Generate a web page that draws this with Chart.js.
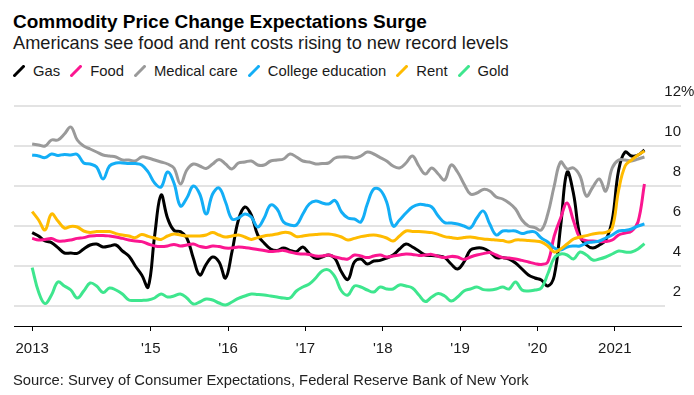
<!DOCTYPE html>
<html>
<head>
<meta charset="utf-8">
<script src="https://cdn.jsdelivr.net/npm/chart.js@4"></script>
<style>
html,body{margin:0;padding:0;background:#fff}
body{width:694px;height:395px;position:relative;overflow:hidden;font-family:"Liberation Sans",Arial,sans-serif;color:#000}
.t{position:absolute;white-space:nowrap;line-height:1}
#title{left:13px;top:12px;font-size:19px;font-weight:bold}
#sub{left:13px;top:34px;font-size:18.2px;color:#1a1a1a}
#legend{position:absolute;left:13px;top:64px;display:flex;font-size:14.8px;line-height:1;white-space:nowrap;color:#1a1a1a}
#legend .it{display:flex;align-items:flex-start;margin-right:10px}
#legend svg{width:12px;height:12px;margin-top:1px;margin-right:8px}
#source{left:13px;top:373px;font-size:14.75px;color:#222}
#wrap{position:absolute;left:0;top:0;width:694px;height:395px}
</style>
</head>
<body>
<div class="t" id="title">Commodity Price Change Expectations Surge</div>
<div class="t" id="sub">Americans see food and rent costs rising to new record levels</div>
<div id="legend"></div>
<div id="wrap"><canvas id="chart" width="694" height="395"></canvas></div>
<div class="t" id="source">Source: Survey of Consumer Expectations, Federal Reserve Bank of New York</div>

<script>
// 월별 데이터: 2013년 6월 ~ 2021년 5월 (96개월)
const FIRST_YEAR  = 2013;
const FIRST_MONTH = 6;

const gas = [
  5.67, 5.5, 5.25, 5.17, 4.92, 4.65, 4.65, 4.63, 4.85, 5.05,
  5.1, 4.95, 5.0, 5.05, 4.75, 4.5, 4.0, 3.55, 2.95, 5.5,
  7.55, 6.4, 5.78, 5.72, 5.4, 4.4, 3.55, 4.08, 4.45, 4.2,
  3.4, 4.7, 6.3, 6.95, 6.55, 5.55, 5.15, 4.85, 4.78, 4.9,
  4.78, 4.72, 4.95, 4.62, 4.38, 4.45, 4.55, 4.37, 3.7, 3.33,
  4.2, 4.35, 4.1, 4.25, 4.28, 4.4, 4.55, 4.85, 5.1, 4.95,
  4.75, 4.55, 4.52, 4.5, 4.42, 4.1, 3.85, 4.2, 4.8, 4.9,
  4.88, 4.7, 4.42, 4.42, 4.35, 4.15, 3.85, 3.55, 3.4, 3.3,
  3.0, 3.5, 6.0, 8.7, 7.6, 5.5, 5.05, 4.9, 5.05, 5.3,
  6.3, 8.8, 9.7, 9.5, 9.55, 9.8
];
const food = [
  5.38, 5.3, 5.33, 5.37, 5.25, 5.25, 5.3, 5.38, 5.42, 5.5,
  5.52, 5.53, 5.5, 5.45, 5.38, 5.3, 5.25, 5.22, 5.1, 5.0,
  4.97, 5.0, 5.08, 5.0, 5.05, 5.1, 4.98, 4.93, 5.0, 4.97,
  4.9, 4.9, 4.95, 4.92, 4.88, 4.82, 4.78, 4.72, 4.75, 4.78,
  4.7, 4.62, 4.6, 4.58, 4.5, 4.5, 4.55, 4.45, 4.38, 4.35,
  4.55, 4.5, 4.42, 4.5, 4.55, 4.45, 4.5, 4.55, 4.6, 4.58,
  4.53, 4.55, 4.58, 4.48, 4.42, 4.48, 4.45, 4.33, 4.45, 4.55,
  4.62, 4.67, 4.55, 4.42, 4.4, 4.35, 4.28, 4.2, 4.12, 4.08,
  4.2, 5.5, 6.4, 7.15, 6.25, 5.4, 5.27, 5.25, 5.22, 5.22,
  5.3, 5.55, 5.65, 5.75, 6.2, 8.1
];
const medical = [
  10.1, 10.05, 10.0, 10.3, 10.3, 10.6, 10.95, 10.3, 10.0, 9.85,
  9.7, 9.55, 9.5, 9.45, 9.3, 9.3, 9.25, 9.45, 9.4, 9.3,
  9.2, 9.1, 8.9, 8.1, 8.8, 9.1, 9.0, 8.88, 9.1, 9.33,
  9.1, 8.85, 9.15, 9.2, 9.25, 9.05, 9.05, 9.25, 9.3, 9.35,
  9.6, 9.45, 9.25, 9.2, 9.1, 9.12, 9.15, 9.4, 9.45, 9.45,
  9.4, 9.5, 9.7, 9.6, 9.42, 9.25, 9.0, 8.9, 9.15, 9.5,
  9.0, 8.6, 8.9, 8.6, 8.3, 9.05, 8.7, 8.1, 7.6, 7.65,
  7.83, 7.75, 7.45, 7.35, 7.15, 6.85, 6.3, 6.0, 5.92, 5.8,
  6.6, 8.0, 9.2, 8.85, 8.9, 8.5, 7.5, 7.95, 8.35, 7.75,
  8.9, 9.3, 9.3, 9.25, 9.35, 9.45
];
const college = [
  9.55, 9.5, 9.42, 9.6, 9.53, 9.58, 9.55, 9.58, 9.15, 9.1,
  8.95, 8.35, 9.0, 9.15, 9.15, 9.12, 9.12, 9.05, 8.7, 8.15,
  7.95, 8.7, 8.15, 7.0, 7.4, 8.0, 7.6, 6.6, 7.6, 7.9,
  7.2, 6.35, 6.4, 6.6, 6.45, 5.95, 6.4, 7.05, 6.85, 6.2,
  6.05, 6.05, 6.6, 7.1, 7.25, 7.15, 7.1, 7.28, 6.7, 6.4,
  6.35, 6.2, 7.1, 7.85, 7.8, 7.2, 6.0, 6.3, 6.65, 6.95,
  7.08, 7.05, 6.95, 6.5, 6.17, 6.15, 6.1, 6.0, 5.9, 6.4,
  6.75, 6.1, 5.55, 5.75, 5.75, 5.75, 5.62, 5.7, 5.7, 5.4,
  5.2, 4.9, 4.8, 4.95, 5.0, 5.0, 5.15, 5.2, 5.25, 5.4,
  5.55, 5.75, 5.78, 5.85, 6.0, 6.1
];
const rent = [
  6.72, 6.3, 5.8, 6.6, 6.25, 5.9, 5.98, 5.95, 5.75, 5.68,
  5.72, 5.72, 5.72, 5.62, 5.55, 5.5, 5.42, 5.58, 5.48, 5.4,
  5.33, 5.5, 5.6, 5.55, 5.5, 5.5, 5.5, 5.55, 5.67, 5.55,
  5.45, 5.5, 5.55, 5.45, 5.33, 5.42, 5.5, 5.55, 5.6, 5.68,
  5.65, 5.47, 5.5, 5.55, 5.57, 5.6, 5.6, 5.55, 5.45, 5.3,
  5.38, 5.47, 5.52, 5.55, 5.5, 5.4, 5.25, 5.5, 5.75, 5.73,
  5.72, 5.7, 5.67, 5.58, 5.47, 5.42, 5.38, 5.42, 5.45, 5.4,
  5.35, 5.33, 5.3, 5.27, 5.2, 5.3, 5.3, 5.27, 5.25, 5.2,
  5.0, 4.7, 4.85, 5.1, 5.35, 5.45, 5.52, 5.6, 5.65, 5.68,
  5.9, 7.8, 9.0, 9.3, 9.55, 9.75
];
const gold = [
  3.92, 2.7, 2.12, 2.55, 3.2, 3.0, 2.8, 2.4, 2.75, 3.15,
  3.0, 2.68, 2.9, 2.8, 2.6, 2.3, 2.28, 2.28, 2.3, 2.4,
  2.6, 2.45, 2.5, 2.6, 2.4, 2.1, 2.2, 2.35, 2.3, 2.15,
  2.05, 2.2, 2.38, 2.5, 2.6, 2.58, 2.55, 2.5, 2.45, 2.4,
  2.4, 2.75, 2.95, 3.1, 3.4, 3.75, 3.8, 3.45, 2.75, 2.55,
  3.0, 2.95, 2.8, 2.7, 2.95, 2.85, 2.85, 3.05, 3.0, 2.9,
  2.55, 2.22, 2.45, 2.62, 2.5, 2.25, 2.45, 2.75, 2.85, 2.95,
  2.82, 2.8, 2.85, 2.95, 2.85, 3.2, 2.8, 2.75, 2.8, 2.9,
  3.6, 4.4, 4.6, 4.55, 4.35, 4.7, 4.55, 4.3, 4.35, 4.45,
  4.6, 4.75, 4.7, 4.7, 4.85, 5.12
];

const seriesNames  = ['Gas', 'Food', 'Medical care', 'College education', 'Rent', 'Gold'];
const seriesValues = [gas, food, medical, college, rent, gold];
const seriesColors = ['#000000', '#fb1690', '#9a9a9a', '#13aef6', '#ffbb00', '#3ee68e'];

const yTicks      = [2, 4, 6, 8, 10, 12];
const xTickYears  = [2015, 2016, 2017, 2018, 2019, 2020, 2021];
const xTickLabels = ['2013', "'15", "'16", "'17", "'18", "'19", "'20", '2021'];

const FONT = '"Liberation Sans", Arial, sans-serif';

// 월 인덱스 → 연도 좌표 (월 중순~하순 위치)
const monthPos = gas.map((_, i) => FIRST_YEAR + (FIRST_MONTH - 0.4 + i) / 12);
const xTicks = [monthPos[0], ...xTickYears];

// 범례 (기울어진 선 모양)
const legendBox = document.getElementById('legend');
seriesNames.forEach((name, k) => {
  const it = document.createElement('div');
  it.className = 'it';
  it.innerHTML = '<svg viewBox="0 0 12 12"><line x1="0.5" y1="11.5" x2="11.5" y2="0.5" stroke="' +
    seriesColors[k] + '" stroke-width="3"/></svg><span>' + name + '</span>';
  legendBox.appendChild(it);
});

// y축 라벨: 격자선 위쪽, 오른쪽 정렬 / 맨 아래 격자선은 짧게
const yLabels = {
  id: 'yLabels',
  beforeDatasetsDraw(chart) {
    const { ctx, chartArea, scales: { y } } = chart;
    const py = y.getPixelForValue(yTicks[0]);
    ctx.save();
    ctx.strokeStyle = '#e3e3e3';
    ctx.lineWidth = 2;
    ctx.beginPath();
    ctx.moveTo(chartArea.left, py);
    ctx.lineTo(chartArea.right - 16, py);
    ctx.stroke();
    ctx.restore();
  },
  afterDraw(chart) {
    const { ctx, chartArea, scales: { y } } = chart;
    ctx.save();
    ctx.font = '15px ' + FONT;
    ctx.fillStyle = '#1a1a1a';
    ctx.textBaseline = 'middle';
    yTicks.forEach((v, i) => {
      const py = y.getPixelForValue(v) - 14;
      ctx.textAlign = 'right';
      ctx.fillText(String(v), chartArea.right, py);
      if (i === yTicks.length - 1) {
        ctx.textAlign = 'left';
        ctx.fillText('%', chartArea.right, py);
      }
    });
    ctx.restore();
  }
};

new Chart(document.getElementById('chart'), {
  type: 'line',
  data: {
    datasets: seriesNames.map((name, k) => ({
      label: name,
      data: seriesValues[k].map((v, i) => ({ x: monthPos[i], y: v })),
      borderColor: seriesColors[k],
      backgroundColor: 'transparent',
      borderWidth: 3,
      pointRadius: 0,
      tension: 0.4,
      fill: false,
      order: seriesNames.length - k
    }))
  },
  options: {
    responsive: false,
    animation: false,
    events: [],
    layout: { padding: { left: 14, right: 13, top: 106, bottom: 28 } },
    plugins: { legend: { display: false }, tooltip: { enabled: false } },
    scales: {
      x: {
        type: 'linear',
        min: 2013.232,
        max: 2021.856,
        afterBuildTicks: sc => { sc.ticks = xTicks.map(v => ({ value: v })); },
        ticks: {
          callback: (v, i) => xTickLabels[i],
          autoSkip: false, maxRotation: 0,
          font: { family: FONT, size: 15 },
          color: '#1a1a1a',
          padding: 9
        },
        grid: { drawOnChartArea: false, drawTicks: true, tickLength: 5, tickColor: '#000', tickWidth: 1 },
        border: { display: true, color: '#000', width: 1 }
      },
      y: {
        min: 1,
        max: 12,
        afterBuildTicks: sc => { sc.ticks = yTicks.map(v => ({ value: v })); },
        afterFit: sc => { sc.width = 0; },
        ticks: { display: false },
        grid: {
          color: c => (c.tick && c.tick.value === yTicks[0]) ? 'transparent' : '#e3e3e3',
          lineWidth: 2,
          drawTicks: false
        },
        border: { display: false }
      }
    }
  },
  plugins: [yLabels]
});
</script>
</body>
</html>
